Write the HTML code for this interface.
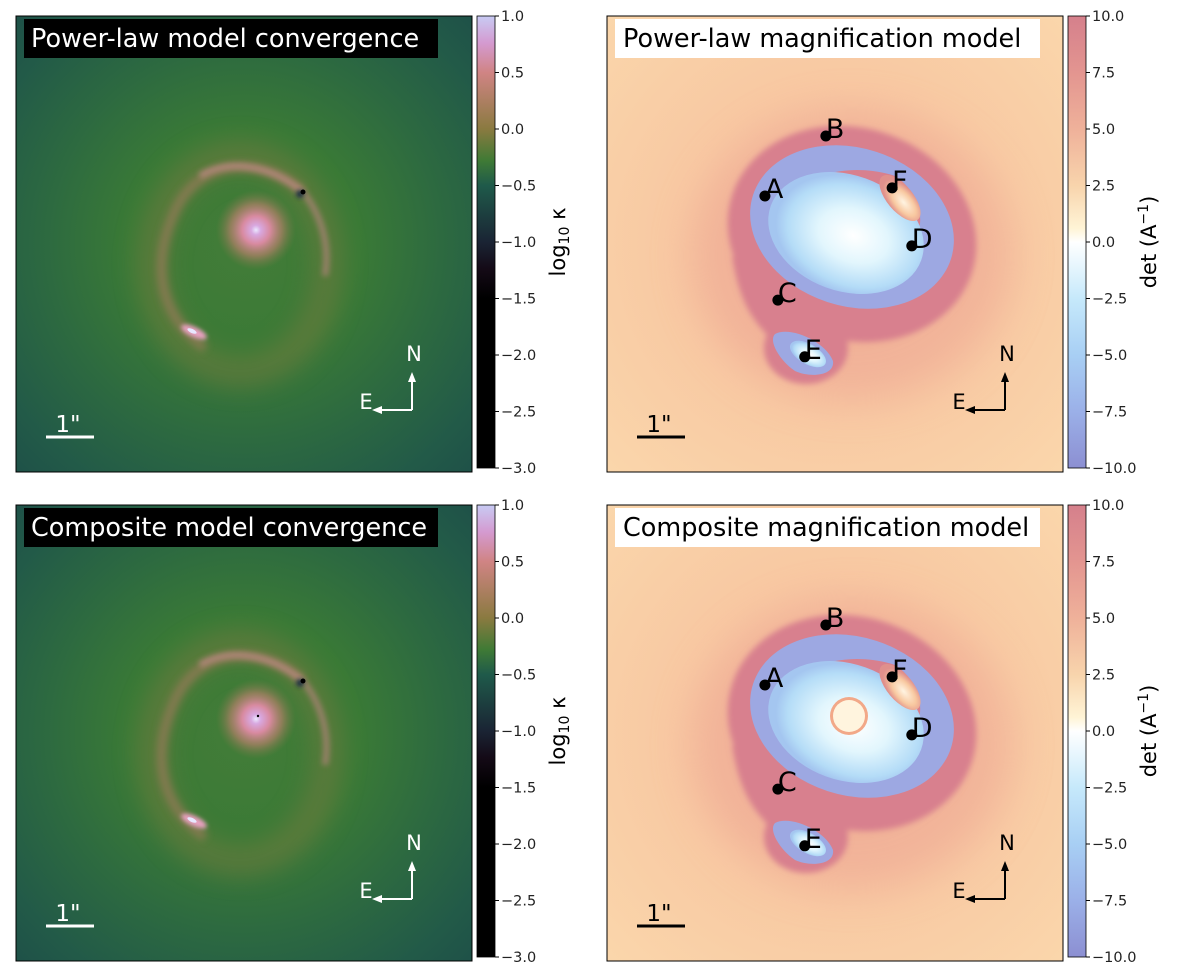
<!DOCTYPE html>
<html><head><meta charset="utf-8">
<style>
body{margin:0;background:#fff;}
svg{display:block;font-family:"DejaVu Sans","Liberation Sans",sans-serif;}
</style></head>
<body>
<svg id="fig" width="1200" height="977" viewBox="0 0 1200 977" xmlns="http://www.w3.org/2000/svg">
<defs>
  <radialGradient id="bgL" cx="0.5" cy="0.5" r="0.72">
    <stop offset="0" stop-color="#437c38"/>
    <stop offset="0.35" stop-color="#3a7a36"/>
    <stop offset="0.6" stop-color="#2d6a40"/>
    <stop offset="0.85" stop-color="#225a48"/>
    <stop offset="1" stop-color="#1e5048"/>
  </radialGradient>
  <radialGradient id="blob" cx="0.5" cy="0.5" r="0.5">
    <stop offset="0" stop-color="#eae8ff"/>
    <stop offset="0.12" stop-color="#d8a8e0"/>
    <stop offset="0.35" stop-color="#d88aa0"/>
    <stop offset="0.65" stop-color="#b08068" stop-opacity="0.7"/>
    <stop offset="1" stop-color="#7a7a48" stop-opacity="0"/>
  </radialGradient>
  <radialGradient id="bgR" cx="0.5" cy="0.5" r="0.7">
    <stop offset="0" stop-color="#f3b598"/>
    <stop offset="0.5" stop-color="#f8c8a2"/>
    <stop offset="1" stop-color="#fad6ab"/>
  </radialGradient>
  <radialGradient id="inner" cx="0.55" cy="0.5" r="0.5">
    <stop offset="0" stop-color="#ffffff"/>
    <stop offset="0.45" stop-color="#e2f6fd"/>
    <stop offset="0.85" stop-color="#b4dcf7"/>
    <stop offset="1" stop-color="#a4c6f0"/>
  </radialGradient>
  <radialGradient id="fblob" cx="0.5" cy="0.6" r="0.5">
    <stop offset="0" stop-color="#fff4e2"/>
    <stop offset="0.6" stop-color="#f8c8a0"/>
    <stop offset="1" stop-color="#e0908c"/>
  </radialGradient>
  <linearGradient id="cmapL" x1="0" y1="0" x2="0" y2="1">
    <stop offset="0" stop-color="#c8cbf4"/>
    <stop offset="0.06" stop-color="#d49ad0"/>
    <stop offset="0.125" stop-color="#d08484"/>
    <stop offset="0.25" stop-color="#8a7a40"/>
    <stop offset="0.32" stop-color="#3f7a35"/>
    <stop offset="0.375" stop-color="#1f5a4a"/>
    <stop offset="0.5" stop-color="#1a2434"/>
    <stop offset="0.56" stop-color="#140a16"/>
    <stop offset="0.625" stop-color="#000000"/>
    <stop offset="1" stop-color="#000000"/>
  </linearGradient>
  <linearGradient id="cmapR" x1="0" y1="0" x2="0" y2="1">
    <stop offset="0" stop-color="#d5808c"/>
    <stop offset="0.125" stop-color="#e39590"/>
    <stop offset="0.25" stop-color="#efb19a"/>
    <stop offset="0.375" stop-color="#f8d4ac"/>
    <stop offset="0.47" stop-color="#fff4d6"/>
    <stop offset="0.5" stop-color="#ffffff"/>
    <stop offset="0.625" stop-color="#c6e9fb"/>
    <stop offset="0.75" stop-color="#a8cff4"/>
    <stop offset="0.875" stop-color="#9bb0e8"/>
    <stop offset="1" stop-color="#8c8fd2"/>
  </linearGradient>
  <filter id="blur2" x="-50%" y="-50%" width="200%" height="200%"><feGaussianBlur stdDeviation="2"/></filter>
  <filter id="blur3" x="-50%" y="-50%" width="200%" height="200%"><feGaussianBlur stdDeviation="3"/></filter>
  <filter id="blur4" x="-50%" y="-50%" width="200%" height="200%"><feGaussianBlur stdDeviation="4"/></filter>
  <filter id="blur12" x="-50%" y="-50%" width="200%" height="200%"><feGaussianBlur stdDeviation="12"/></filter>
  <filter id="blur20" x="-50%" y="-50%" width="200%" height="200%"><feGaussianBlur stdDeviation="20"/></filter>
</defs>
</svg>
<script>
const cbTicksLeft = [1.0, 0.5, 0.0, -0.5, -1.0, -1.5, -2.0, -2.5, -3.0];
const cbTicksRight = [10.0, 7.5, 5.0, 2.5, 0.0, -2.5, -5.0, -7.5, -10.0];
const imageLabels = ["A", "B", "C", "D", "E", "F"];
const imageRA = [-1.46, -0.19, -1.19, 1.60, -0.63, 1.19];
const imageDec = [1.00, 2.25, -1.17, -0.04, -2.35, 1.17];
const titlesLeft = ["Power-law model convergence", "Composite model convergence"];
const titlesRight = ["Power-law magnification model", "Composite magnification model"];

const NS = "http://www.w3.org/2000/svg";
const svg = document.getElementById("fig");
function el(tag, attrs, parent, text){
  const e = document.createElementNS(NS, tag);
  for (const k in attrs) e.setAttribute(k, attrs[k]);
  if (text !== undefined) e.textContent = text;
  (parent || svg).appendChild(e);
  return e;
}
const P = 456, pxPerArcsec = 48;
const rowY = [16, 505];
const fmt = v => (v < 0 ? "\u2212" : "") + Math.abs(v).toFixed(1);

function colorbar(x, y, grad, ticks, isLeft, row){
  const g = el("g", {}, svg);
  
  
  el("rect", {x:x, y:y, width:18, height:452, fill:"url(#"+grad+")", stroke:"#000", "stroke-width":0.8}, g);
  const lo = ticks[ticks.length-1], hi = ticks[0];
  const sy = v => y + (hi - v) / (hi - lo) * 452;
  ticks.forEach(v => {
    const yy = sy(v);
    el("line", {x1:x+18, x2:x+22, y1:yy, y2:yy, stroke:"#000", "stroke-width":1}, g);
    const t = el("text", {x:x+24, y:yy+5, "font-size":14.5, fill:"#222"}, g, fmt(v));
    
    
  });
  const lx = x + 88, ly = y + 226;
  const t = el("text", {x:lx, y:ly, "font-size":21, fill:"#000", "text-anchor":"middle", transform:"rotate(-90 "+lx+" "+ly+")"}, g);
  
  
  if (isLeft){
    t.textContent = "log";
    el("tspan", {"font-size":14, dy:4}, t, "10");
    el("tspan", {dy:-4}, t, " κ");
  } else {
    t.textContent = "det  (A";
    el("tspan", {"font-size":14, dy:-8}, t, "−1");
    el("tspan", {dy:8}, t, ")");
  }
}

function compass(g, x, y, col){
  el("line", {x1:x, y1:y, x2:x, y2:y-30, stroke:col, "stroke-width":2}, g);
  el("path", {d:`M${x-4} ${y-28} L${x} ${y-38} L${x+4} ${y-28} Z`, fill:col}, g);
  el("line", {x1:x, y1:y, x2:x-32, y2:y, stroke:col, "stroke-width":2}, g);
  el("path", {d:`M${x-30} ${y-4} L${x-40} ${y} L${x-30} ${y+4} Z`, fill:col}, g);
  el("text", {x:x+2, y:y-49, "font-size":21, fill:col, "text-anchor":"middle"}, g, "N");
  el("text", {x:x-46, y:y-1, "font-size":21, fill:col, "text-anchor":"middle"}, g, "E");
}
function scalebar(g, x, y, col){
  el("line", {x1:x, y1:y, x2:x+pxPerArcsec, y2:y, stroke:col, "stroke-width":3}, g);
  el("text", {x:x+22, y:y-5, "font-size":23, fill:col, "text-anchor":"middle"}, g, "1\"");
}

for (let r = 0; r < 2; r++){
  const y0 = rowY[r];
  const x0 = 16;
  const gl = el("g", {}, svg);
  
  
  el("rect", {x:x0, y:y0, width:P, height:P, fill:"url(#bgL)"}, gl);
  const clipId = "clipL" + r;
  const cp = el("clipPath", {id:clipId}, gl);
  el("rect", {x:x0, y:y0, width:P, height:P}, cp);
  const gi = el("g", {"clip-path":"url(#"+clipId+")"}, gl);
  el("ellipse", {cx:240, cy:y0+248, rx:88, ry:108, fill:"none", stroke:"#7a7a40", "stroke-width":30, opacity:0.5, filter:"url(#blur12)"}, gi);
  el("path", {d:`M303 ${y0+176} C265 ${y0+140} 200 ${y0+140} 175 ${y0+195} C150 ${y0+250} 160 ${y0+300} 205 ${y0+332}`, fill:"none", stroke:"#9a7a5a", "stroke-width":10, opacity:0.7, filter:"url(#blur4)"}, gi);
  el("path", {d:`M303 ${y0+176} C265 ${y0+145} 225 ${y0+145} 200 ${y0+160}`, fill:"none", stroke:"#c08a86", "stroke-width":6, opacity:0.8, filter:"url(#blur3)"}, gi);
  el("path", {d:`M303 ${y0+176} C322 ${y0+200} 330 ${y0+230} 325 ${y0+260}`, fill:"none", stroke:"#b88480", "stroke-width":6, opacity:0.7, filter:"url(#blur3)"}, gi);
  el("ellipse", {cx:194, cy:y0+316, rx:14, ry:5, fill:"#e8a0c0", transform:`rotate(25 194 ${y0+316})`, filter:"url(#blur2)"}, gi);
  el("ellipse", {cx:192, cy:y0+315, rx:5, ry:2, fill:"#e8e8ff", transform:`rotate(25 192 ${y0+315})`}, gi);
  el("circle", {cx:256, cy:y0+214, r:40, fill:"url(#blob)"}, gi);
  el("circle", {cx:300, cy:y0+178, r:4, fill:"#1a3040", filter:"url(#blur2)"}, gi);
  el("circle", {cx:303, cy:y0+176, r:2.5, fill:"#000"}, gi);
  if (r === 1) el("circle", {cx:258, cy:y0+211, r:1.2, fill:"#000"}, gi);
  el("rect", {x:x0, y:y0, width:P, height:P, fill:"none", stroke:"#000", "stroke-width":1}, gl);
  const tb = el("g", {}, gl);
  
  
  el("rect", {x:24, y:y0+3, width:414, height:39, fill:"#000"}, tb);
  el("text", {x:31, y:y0+31, "font-size":25.5, fill:"#fff"}, tb, titlesLeft[r]);
  compass(gl, 412, y0+394, "#fff");
  scalebar(gl, 46, y0+421, "#fff");
  colorbar(477, y0, "cmapL", cbTicksLeft, true, r);

  const X0 = 607, cx = X0 + P/2, cy = y0 + P/2;
  const gr = el("g", {}, svg);
  
  
  el("rect", {x:X0, y:y0, width:P, height:P, fill:"url(#bgR)"}, gr);
  const cid = "clipR" + r;
  const cp2 = el("clipPath", {id:cid}, gr);
  el("rect", {x:X0, y:y0, width:P, height:P}, cp2);
  const gm = el("g", {"clip-path":"url(#"+cid+")"}, gr);
  el("ellipse", {cx:852, cy:y0+240, rx:160, ry:145, fill:"#eea894", opacity:0.6, filter:"url(#blur20)"}, gm);
  const pg0 = el("g", {filter:"url(#blur3)"}, gm);
  el("ellipse", {cx:852, cy:y0+218, rx:126, ry:106, fill:"#d8808e", transform:`rotate(18 852 ${y0+218})`}, pg0);
  el("ellipse", {cx:806, cy:y0+332, rx:42, ry:36, fill:"#d8808e"}, pg0);
  el("path", {d:`M732 ${y0+240} C740 ${y0+290} 755 ${y0+305} 768 ${y0+320} L840 ${y0+320} Z`, fill:"#d8808e"}, pg0);
  el("ellipse", {cx:852, cy:y0+211, rx:104, ry:79, fill:"#9da8e2", transform:`rotate(18 852 ${y0+211})`}, gm);
  el("path", {d:`M806 ${y0+172} C815 ${y0+155} 860 ${y0+148} 895 ${y0+160} C915 ${y0+172} 925 ${y0+200} 918 ${y0+215} C900 ${y0+200} 870 ${y0+175} 806 ${y0+172} Z`, fill:"#d8808e"}, gm);
  el("ellipse", {cx:846, cy:y0+217, rx:80, ry:58, fill:"url(#inner)", transform:`rotate(20 846 ${y0+217})`}, gm);
  el("ellipse", {cx:900, cy:y0+182, rx:13, ry:28, fill:"url(#fblob)", transform:`rotate(-40 900 ${y0+182})`}, gm);
  el("path", {d:`M775 ${y0+318} C790 ${y0+310} 825 ${y0+325} 833 ${y0+345} C835 ${y0+360} 810 ${y0+362} 795 ${y0+355} C780 ${y0+345} 768 ${y0+325} 775 ${y0+318} Z`, fill:"#9da8e2"}, gm);
  el("ellipse", {cx:808, cy:y0+338, rx:20, ry:10, fill:"url(#inner)", transform:`rotate(30 808 ${y0+338})`}, gm);
  if (r === 1){
    el("circle", {cx:849, cy:y0+211, r:19, fill:"#f2a888"}, gm);
    el("circle", {cx:849, cy:y0+211, r:16, fill:"#fff4de"}, gm);
  }
  imageLabels.forEach((lab, i) => {
    const px = cx + imageRA[i]*pxPerArcsec, py = cy - imageDec[i]*pxPerArcsec;
    const pg = el("g", {}, gr);
    
    
    el("circle", {cx:px, cy:py, r:5.5, fill:"#000"}, pg);
    el("text", {x:px, y:py+2, "font-size":27, fill:"#000"}, pg, lab);
  });
  el("rect", {x:X0, y:y0, width:P, height:P, fill:"none", stroke:"#000", "stroke-width":1}, gr);
  const tb2 = el("g", {}, gr);
  
  
  el("rect", {x:615, y:y0+3, width:425, height:39, fill:"#fff"}, tb2);
  el("text", {x:623, y:y0+31, "font-size":25.5, fill:"#000"}, tb2, titlesRight[r]);
  compass(gr, 1005, y0+394, "#000");
  scalebar(gr, 637, y0+421, "#000");
  colorbar(1068, y0, "cmapR", cbTicksRight, false, r);
}
</script>
</body></html>
